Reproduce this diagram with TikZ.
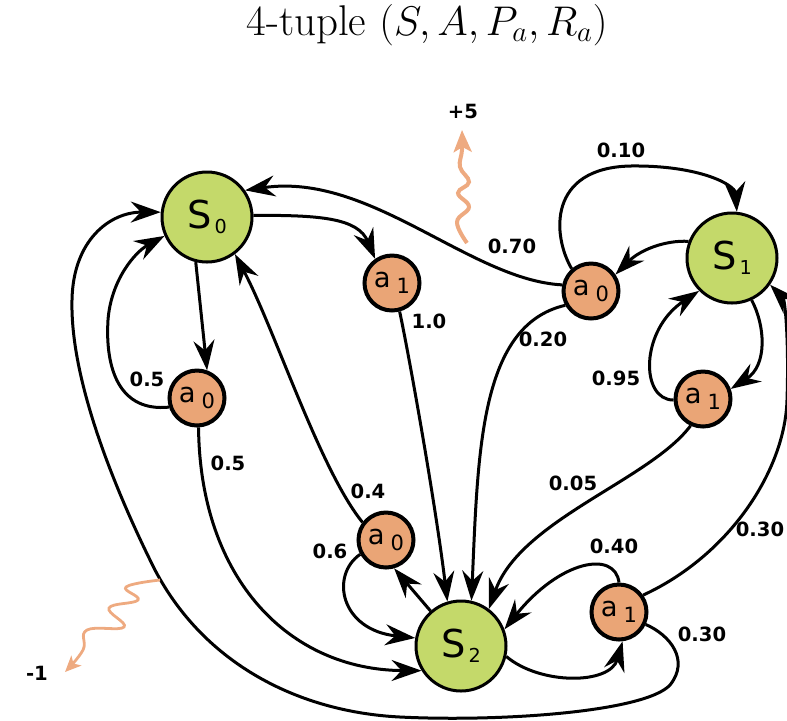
\documentclass[tikz,border=0pt]{standalone}
\usepackage{fontspec}
\newfontfamily\dvsans{DejaVu Sans}
\usepackage{xcolor}
\usepackage{tikz}
\usetikzlibrary{arrows.meta}

\definecolor{stategreen}{RGB}{196,217,106}
\definecolor{actorange}{RGB}{234,165,118}
\definecolor{rewardorange}{RGB}{238,170,128}

\newcommand{\stlab}[1]{S\kern1.5pt\raisebox{-2.5pt}{\fontsize{9.6}{9.6}\selectfont #1}}
\newcommand{\aclab}[1]{a\kern3pt\raisebox{-3pt}{\fontsize{10.5}{10.5}\selectfont #1}}

\begin{document}
\begin{tikzpicture}[x=0.5pt, y=-0.5pt,
  state/.style={circle, draw, line width=1.5pt, fill=stategreen, minimum size=45pt, inner sep=0pt, font=\dvsans\fontsize{19.2}{19.2}\selectfont},
  action/.style={circle, draw, line width=2pt, fill=actorange, minimum size=27.5pt, inner sep=0pt, font=\dvsans\fontsize{13.7}{13.7}\selectfont},
  edge/.style={line width=1.5pt, -{Stealth[length=15pt, width=10.5pt, inset=5pt]}},
  prob/.style={font=\dvsans\bfseries\fontsize{9.8}{10}\selectfont, inner sep=0pt},
  reward/.style={rewardorange, line width=2pt, -{Stealth[length=11pt, width=9pt, inset=2.5pt]}}]
  \useasboundingbox (0,0) rectangle (787,720);

  % Title
  \node[anchor=base, font=\fontsize{21.5}{24}\selectfont] (title) at (427,35) {4-tuple $(S, A, P_a, R_a)$};

  % States
  \node[state] (s0) at (207,217) {\stlab{0}};
  \node[state] (s1) at (732,258) {\stlab{1}};
  \node[state] (s2) at (461,646) {\stlab{2}};

  % Actions
  \node[action] (s0a0) at (197,398) {\aclab{0}};
  \node[action] (s0a1) at (392,283) {\aclab{1}};
  \node[action] (s1a0) at (591,291) {\aclab{0}};
  \node[action] (s1a1) at (703,399) {\aclab{1}};
  \node[action] (s2a0) at (386,540) {\aclab{0}};
  \node[action] (s2a1) at (619,612) {\aclab{1}};

  % From S0
  \draw[edge] (s0.2) .. controls (320,215) and (358,218) .. (s0a1.125);
  \draw[edge] (s0.-104) -- (s0a0.70);
  \draw[edge] (s0a1.-75) .. controls (408,350) and (435,500) .. (s2.107);
  \draw[edge] (s0a0.198) .. controls (120,412) and (105,370) .. (108,320) .. controls (111,280) and (135,252) .. (s0.204);
  \draw[edge] (s0a0.-87) .. controls (200,580) and (290,670) .. (s2.212);

  % From S1
  \draw[edge] (s1.159) .. controls (665,240) and (640,250) .. (s1a0.34);
  \draw[edge] (s1a0.131) .. controls (552,235) and (548,168) .. (630,166) .. controls (700,165) and (735,185) .. (s1.84);
  \draw[edge] (s1a0.168) .. controls (470,280) and (370,172) .. (s0.35);
  \draw[edge] (s1a0.209) .. controls (480,325) and (478,450) .. (s2.77);
  \draw[edge] (s1.-65) .. controls (765,325) and (768,365) .. (s1a1.20);
  \draw[edge] (s1a1.182) .. controls (640,400) and (640,330) .. (s1.225);
  \draw[edge] (s1a1.-115) .. controls (650,480) and (520,520) .. (s2.53);

  % From S2
  \draw[edge] (s2.131) -- (s2a0.-74);
  \draw[edge] (s2a0.143) .. controls (320,470) and (275,330) .. (s0.-53);
  \draw[edge] (s2a0.209) .. controls (330,575) and (340,630) .. (s2.170);
  \draw[edge] (s2.-13) .. controls (540,685) and (610,685) .. (s2a1.-83);
  \draw[edge] (s2a1.90) .. controls (615,550) and (560,560) .. (s2.21);
  \draw[edge] (s2a1.35) .. controls (730,555) and (785,470) .. (787,400) .. controls (789,340) and (785,300) .. (s1.-35);
  \draw[edge] (s2a1.-25) .. controls (670,635) and (690,660) .. (670,685)
    .. controls (645,712) and (500,722) .. (400,717)
    .. controls (300,712) and (205,665) .. (155,570)
    .. controls (115,490) and (70,380) .. (72,300)
    .. controls (73,240) and (110,212) .. (s0.174);

  % Transition probabilities
  \node[prob] (p010) at (621,150) {0.10};
  \node[prob] (p070) at (512,246) {0.70};
  \node[prob] (p020) at (543,339) {0.20};
  \node[prob] (p10) at (429,321) {1.0};
  \node[prob] (p095) at (616,378) {0.95};
  \node[prob] (p05a) at (147,379) {0.5};
  \node[prob] (p05b) at (228,463) {0.5};
  \node[prob] (p04) at (368,491) {0.4};
  \node[prob] (p06) at (330,551) {0.6};
  \node[prob] (p005) at (573,483) {0.05};
  \node[prob] (p040) at (614,546) {0.40};
  \node[prob] (p030a) at (760,529) {0.30};
  \node[prob] (p030b) at (702,634) {0.30};

  % Rewards
  \node[prob] (rplus) at (463,111) {+5};
  \node[prob] (rminus) at (37,673) {-1};
  \coordinate (w5from) at (467,243);
  \coordinate (w5to) at (462,130);
  \coordinate (w1from) at (160,580);
  \coordinate (w1to) at (65,672);
  \draw[reward] plot[smooth, tension=0.7] coordinates {(w5from) (457,222) (469,207) (458,193) (469,182) (460,167) (462,150) (w5to)};
  \draw[reward, line width=1.4pt, -{Stealth[length=8pt, width=7pt, inset=2pt]}] plot[smooth, tension=0.7] coordinates {(w1from) (126,587) (138,600) (109,608) (124,627) (87,630) (83,650) (w1to)};
\end{tikzpicture}
\end{document}
